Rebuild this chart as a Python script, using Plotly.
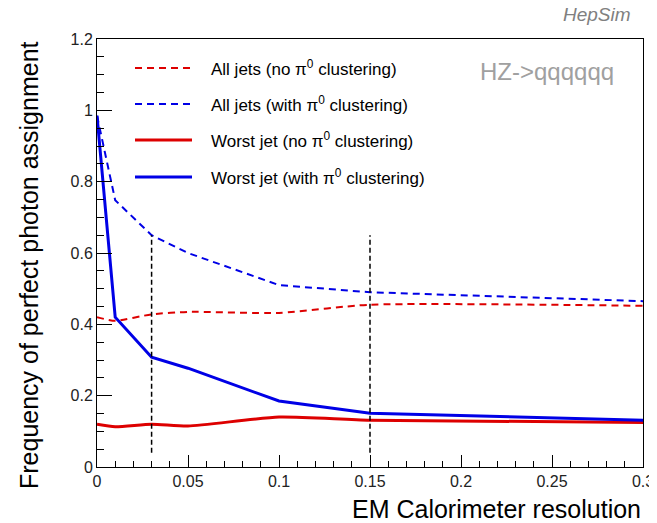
import plotly.graph_objects as go

# ---- data ----
resolution = [0.0, 0.01, 0.03, 0.05, 0.10, 0.15, 0.30]
all_jets_no_pi0 = [0.420, 0.410, 0.428, 0.435, 0.432, 0.455, 0.452]
all_jets_with_pi0 = [0.985, 0.748, 0.650, 0.600, 0.510, 0.490, 0.465]
worst_jet_no_pi0 = [0.120, 0.113, 0.120, 0.115, 0.140, 0.131, 0.125]
worst_jet_with_pi0 = [0.985, 0.420, 0.308, 0.277, 0.185, 0.151, 0.131]

marker_x = [0.03, 0.15]
marker_y = [0.04, 0.65]

legend_labels = [
    "All jets (no π<sup>0</sup> clustering)",
    "All jets (with π<sup>0</sup> clustering)",
    "Worst jet (no π<sup>0</sup> clustering)",
    "Worst jet (with π<sup>0</sup> clustering)",
]

RED = "#dd0000"
BLUE = "#0000e6"
FONT = "Liberation Sans, Arial, Helvetica, sans-serif"

styles = [
    dict(color=RED, width=2, dash="7px,5px"),
    dict(color=BLUE, width=2, dash="7px,5px"),
    dict(color=RED, width=3, dash="solid"),
    dict(color=BLUE, width=3, dash="solid"),
]
series = [all_jets_no_pi0, all_jets_with_pi0, worst_jet_no_pi0, worst_jet_with_pi0]
shapes_line = ["spline", "linear", "spline", "linear"]

fig = go.Figure()
for ys, st, lab, shp in zip(series, styles, legend_labels, shapes_line):
    fig.add_trace(go.Scatter(x=resolution, y=ys, mode="lines", name=lab,
                             line=dict(color=st["color"], width=st["width"],
                                       dash=st["dash"], shape=shp, smoothing=0.6),
                             showlegend=False))

for xv in marker_x:
    fig.add_trace(go.Scatter(x=[xv, xv], y=marker_y, mode="lines",
                             line=dict(color="black", width=1.5, dash="5px,3px"),
                             showlegend=False))

# page has an 8px body margin: the figure starts at page pixel (8, 8)
OFF = 8
W, H = 657 - OFF, 523 - OFF
# plot area in page pixels: x 97..643, y 39..467
ml, mr, mt, mb = 97 - OFF, 657 - 643, 39 - OFF, 523 - 467
pw, ph = W - ml - mr, H - mt - mb

def px(xpage):
    return (xpage - OFF - ml) / pw

def py(ypage):
    return 1 - (ypage - OFF - mt) / ph

shapes = []
annotations = []
leg_rows = [68, 104, 140, 177]
for row, st, lab in zip(leg_rows, styles, legend_labels):
    shapes.append(dict(type="line", xref="paper", yref="paper",
                       x0=px(135), x1=px(192), y0=py(row), y1=py(row),
                       line=dict(color=st["color"], width=st["width"], dash=st["dash"])))
    annotations.append(dict(xref="paper", yref="paper", x=px(209), y=py(row),
                            xanchor="left", yanchor="middle", text=lab, showarrow=False,
                            font=dict(family=FONT, size=17, color="black")))

annotations += [
    dict(xref="paper", yref="paper", x=px(616), y=py(71), xanchor="right", yanchor="middle",
         text="HZ->qqqqqq", showarrow=False, font=dict(family=FONT, size=24, color="#a0a0a0")),
    dict(xref="paper", yref="paper", x=px(638), y=py(15), xanchor="right", yanchor="middle",
         text="<i>HepSim </i>", showarrow=False, font=dict(family=FONT, size=19, color="#808080")),
    dict(xref="paper", yref="paper", x=px(643), y=py(509), xanchor="right", yanchor="middle",
         text="EM Calorimeter resolution", showarrow=False,
         font=dict(family=FONT, size=25, color="black")),
    dict(xref="paper", yref="paper", x=px(29), y=py(39), xanchor="center", yanchor="top",
         text="Frequency of perfect photon assignment", textangle=-90, showarrow=False,
         font=dict(family=FONT, size=25, color="black")),
]

fig.update_layout(
    width=W, height=H,
    margin=dict(l=ml, r=mr, t=mt, b=mb, autoexpand=False),
    paper_bgcolor="white", plot_bgcolor="white",
    font=dict(family=FONT, size=16, color="#222222"),
    shapes=shapes, annotations=annotations,
)
fig.update_xaxes(range=[0, 0.3], showgrid=False, zeroline=False,
                 showline=True, linecolor="black", linewidth=1, mirror=True,
                 ticks="inside", ticklen=12, tickcolor="black", dtick=0.05, tick0=0,
                 minor=dict(ticks="inside", ticklen=6, dtick=0.01, tickcolor="black", showgrid=False),
                 tickfont=dict(family=FONT, size=16, color="#222222"))
fig.update_yaxes(range=[0, 1.2], showgrid=False, zeroline=False,
                 showline=True, linecolor="black", linewidth=1, mirror=True,
                 ticks="inside", ticklen=15, tickcolor="black", dtick=0.2, tick0=0,
                 minor=dict(ticks="inside", ticklen=7, dtick=0.05, tickcolor="black", showgrid=False),
                 tickfont=dict(family=FONT, size=16, color="#222222"))

fig.write_html("out.html")
